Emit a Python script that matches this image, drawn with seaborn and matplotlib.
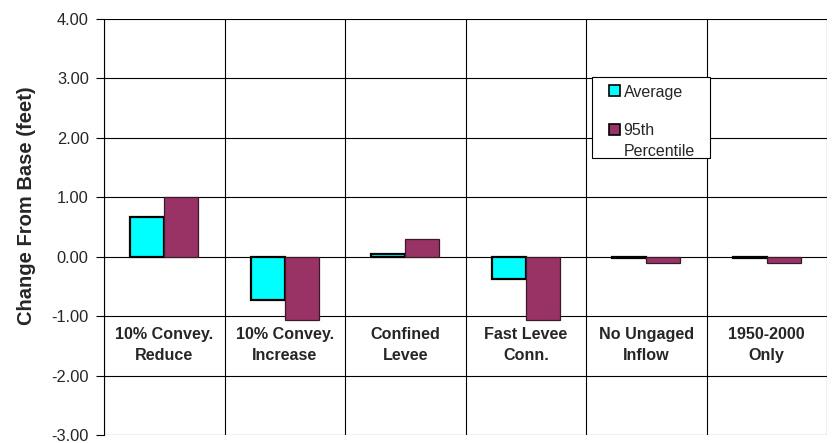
import matplotlib
matplotlib.use("Agg")
import matplotlib.pyplot as plt
from matplotlib.patches import Rectangle
from matplotlib.legend_handler import HandlerPatch
import seaborn as sns
import pandas as pd

categories = ["10% Convey.\nReduce", "10% Convey.\nIncrease", "Confined\nLevee",
              "Fast Levee\nConn.", "No Ungaged\nInflow", "1950-2000\nOnly"]
average = [0.67, -0.72, 0.05, -0.37, -0.03, -0.03]
pct95 = [1.00, -1.07, 0.29, -1.07, -0.10, -0.10]
series = ["Average", "95th\nPercentile"]
colors = ["#00FFFF", "#993366"]

df = pd.DataFrame({
    "scenario": categories * 2,
    "series": [series[0]] * len(categories) + [series[1]] * len(categories),
    "value": average + pct95,
})

sns.set_theme(style="white")
plt.rcParams["font.family"] = ["Liberation Sans", "DejaVu Sans"]

W, H = 833, 443
fig = plt.figure(figsize=(W / 100, H / 100), dpi=100)
ax = fig.add_axes([104 / W, 8 / H, 723 / W, 416 / H])

sns.barplot(data=df, x="scenario", y="value", hue="series", palette=colors,
            saturation=1, width=0.565, ax=ax, edgecolor="black", linewidth=1.6,
            legend=True, zorder=3)
n = len(categories)
for patch in ax.patches[n:2 * n]:
    patch.set_edgecolor("#3a1a28")
    patch.set_linewidth(0.9)

ax.set_ylim(-3, 4)
ax.set_xlim(-0.5, n - 0.5)
ax.set_yticks(range(-3, 5))
ax.set_yticklabels([f"{v:.2f}" for v in range(-3, 5)], fontsize=11.8)
ax.tick_params(axis="y", left=True, length=6, width=0.8, color="black", pad=5)
ax.set_xticks([])
ax.set_xlabel("")
ax.set_ylabel("")
fig.text(27 / W, 1 - 206 / H, "Change From Base (feet)", rotation=90,
         ha="center", va="center", fontsize=14.5, fontweight="bold")

# grid: horizontal at each unit, vertical at category boundaries
for y in range(-3, 5):
    ax.axhline(y, color="black", linewidth=0.8, zorder=1)
for i in range(n + 1):
    ax.axvline(i - 0.5, color="black", linewidth=0.8, zorder=1)
for s in ax.spines.values():
    s.set_visible(False)
ax.spines["left"].set_visible(True)
ax.spines["left"].set_color("black")
ax.spines["left"].set_linewidth(0.8)

for i, name in enumerate(categories):
    ax.text(i, -1.19, name, ha="center", va="top", fontsize=11.6,
            fontweight="bold", linespacing=1.45, zorder=4)


# legend keys: small squares at the right end of the key slot,
# aligned with the first line of a multi-line label
def square_key(legend, orig_handle, xdescent, ydescent, width, height, fontsize):
    side = 0.69 * fontsize
    y0 = (height - side) / 2 - ydescent
    if "\n" in orig_handle.get_label():
        y0 += 0.69 * fontsize
    return Rectangle((width - xdescent - side, y0), side, side)


leg = ax.legend(loc="upper left", bbox_to_anchor=(592 / W, 1 - 75 / H),
                bbox_transform=fig.transFigure, frameon=False,
                fontsize=11.5, handlelength=1.125, handleheight=0.69,
                handletextpad=0.25, labelspacing=1.44, borderpad=0.6,
                borderaxespad=0,
                handler_map={Rectangle: HandlerPatch(patch_func=square_key)})
for t in leg.get_texts():
    t.set_linespacing(1.5)
for h in leg.legend_handles:
    h.set_edgecolor("black")
    h.set_linewidth(1.2)
leg.set_zorder(6)

# legend box outline
ax.add_patch(Rectangle((592 / W, 1 - 158 / H), 118 / W, 81 / H,
                       transform=fig.transFigure, facecolor="white",
                       edgecolor="black", linewidth=0.8, zorder=5, clip_on=False))

fig.savefig("out.png", dpi=100, facecolor="white")
